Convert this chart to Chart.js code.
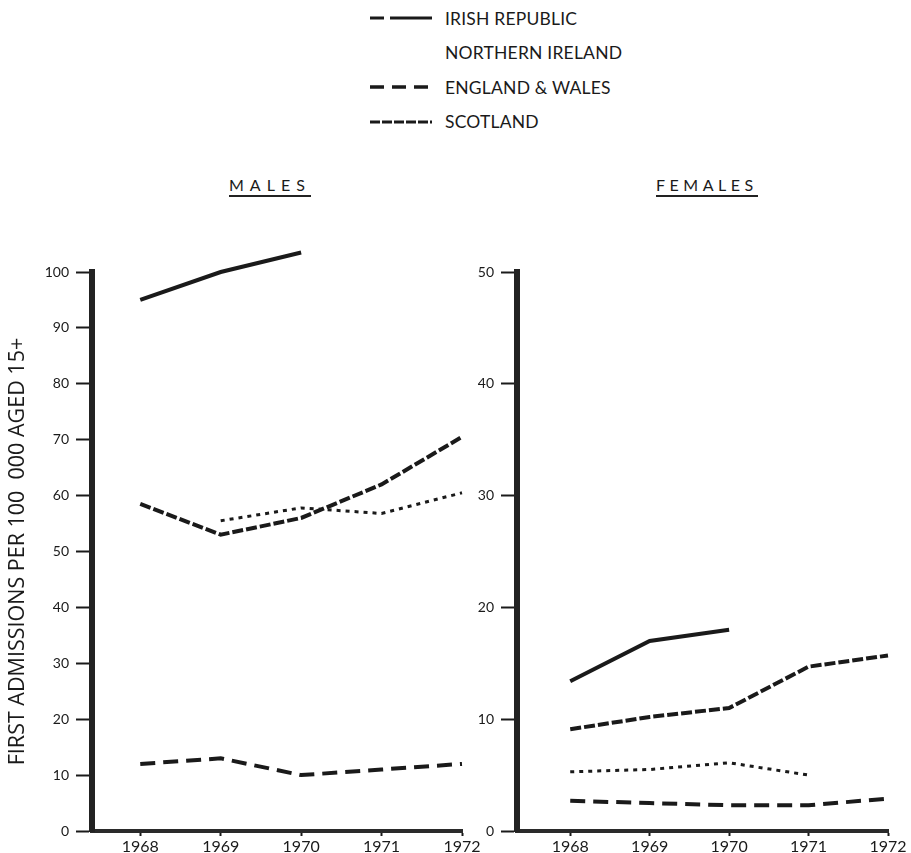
<!DOCTYPE html>
<html>
<head>
<meta charset="utf-8">
<script src="https://cdn.jsdelivr.net/npm/chart.js@4.4.1/dist/chart.umd.min.js"></script>
<style>
  body { margin: 0; width: 911px; height: 853px; overflow: hidden; position: relative; background: #fff; font-family: Lato, sans-serif; color: #1a1a1a; }
  .legend { position: absolute; left: 368px; top: 1px; }
  .row { position: relative; height: 34.5px; display: flex; align-items: center; }
  .row svg { width: 66px; height: 10px; margin-right: 11px; }
  .row span { font-size: 17.5px; letter-spacing: 0.2px; }
  .panel-title { position: absolute; top: 175px; font-size: 16px; border-bottom: 2px solid #222; padding-bottom: 1px; line-height: 19px; }
  canvas { position: absolute; }
</style>
</head>
<body>
<div class="legend">
  <div class="row"><svg><line x1="2" y1="5" x2="64" y2="5" stroke="#1a1a1a" stroke-width="3" stroke-dasharray="14,6,44"/></svg><span>IRISH REPUBLIC</span></div>
  <div class="row"><svg></svg><span>NORTHERN IRELAND</span></div>
  <div class="row"><svg><line x1="2" y1="5" x2="64" y2="5" stroke="#1a1a1a" stroke-width="3.5" stroke-dasharray="14,8"/></svg><span>ENGLAND &amp; WALES</span></div>
  <div class="row"><svg><line x1="2" y1="5" x2="64" y2="5" stroke="#1a1a1a" stroke-width="3" stroke-dasharray="10,2"/></svg><span>SCOTLAND</span></div>
</div>
<div class="panel-title" style="left:229px;letter-spacing:6px">MALES</div>
<div class="panel-title" style="left:656px;letter-spacing:4.5px">FEMALES</div>
<canvas id="males" width="490" height="680" style="left:0;top:200px"></canvas>
<canvas id="females" width="441" height="680" style="left:470px;top:200px"></canvas>
<script>
const years = [1968, 1969, 1970, 1971, 1972];

const maleIrish = [95, 100, 103.5, null, null];
const maleNI = [null, 55.5, 57.8, 56.8, 60.5];
const maleEW = [12, 13, 10, 11, 12];
const maleScot = [58.5, 53, 56, 62, 70.5];

const femaleIrish = [13.4, 17, 18, null, null];
const femaleNI = [5.3, 5.5, 6.1, 5, null];
const femaleEW = [2.7, 2.5, 2.3, 2.3, 2.9];
const femaleScot = [9.1, 10.2, 11, 14.7, 15.7];

const ink = '#1a1a1a';

function pts(vals) {
  return years.map((y, i) => ({ x: y, y: vals[i] }));
}

function series(irish, ni, ew, scot) {
  return [
    { label: 'IRISH REPUBLIC', data: pts(irish), borderWidth: 4 },
    { label: 'NORTHERN IRELAND', data: pts(ni), borderWidth: 3, borderDash: [4, 5] },
    { label: 'ENGLAND & WALES', data: pts(ew), borderWidth: 4, borderDash: [15, 8] },
    { label: 'SCOTLAND', data: pts(scot), borderWidth: 4, borderDash: [11, 3] }
  ].map(d => Object.assign(d, {
    borderColor: ink, pointRadius: 0, tension: 0, spanGaps: false, clip: false, fill: false
  }));
}

function makeChart(id, datasets, yMax, yWidth, xMin, padRight, yTitle) {
  return new Chart(document.getElementById(id), {
    type: 'line',
    data: { datasets: datasets },
    options: {
      responsive: false,
      animation: false,
      layout: { padding: { top: 72, right: padRight, left: 0, bottom: 0 } },
      plugins: { legend: { display: false }, tooltip: { enabled: false } },
      scales: {
        x: {
          type: 'linear',
          min: xMin,
          max: 1972,
          afterBuildTicks: s => { s.ticks = years.map(v => ({ value: v })); },
          afterFit: s => { s.height = 49; },
          ticks: { color: ink, font: { family: 'Lato', size: 16 }, padding: 1, maxRotation: 0, callback: v => String(v) },
          grid: { drawOnChartArea: false, tickLength: 5, tickWidth: 2, tickColor: ink },
          border: { display: true, width: 4, color: '#2a2a2a' }
        },
        y: {
          min: 0,
          max: yMax,
          afterFit: s => { s.width = yWidth; },
          ticks: { stepSize: 10, color: ink, font: { family: 'Lato', size: 14 }, padding: 7 },
          grid: { drawOnChartArea: false, tickLength: 16, tickWidth: 2, tickColor: ink },
          border: { display: true, width: 6, color: '#222' },
          title: yTitle ? { display: true, text: yTitle, color: ink, font: { family: 'Open Sans', size: 21.5 }, padding: { top: 5 } } : { display: false }
        }
      }
    }
  });
}

makeChart('males', series(maleIrish, maleNI, maleEW, maleScot), 100, 92, 1967.4, 28,
  'FIRST ADMISSIONS PER 100  000 AGED 15+');
makeChart('females', series(femaleIrish, femaleNI, femaleEW, femaleScot), 50, 47, 1967.33, 23, null);
</script>
</body>
</html>
